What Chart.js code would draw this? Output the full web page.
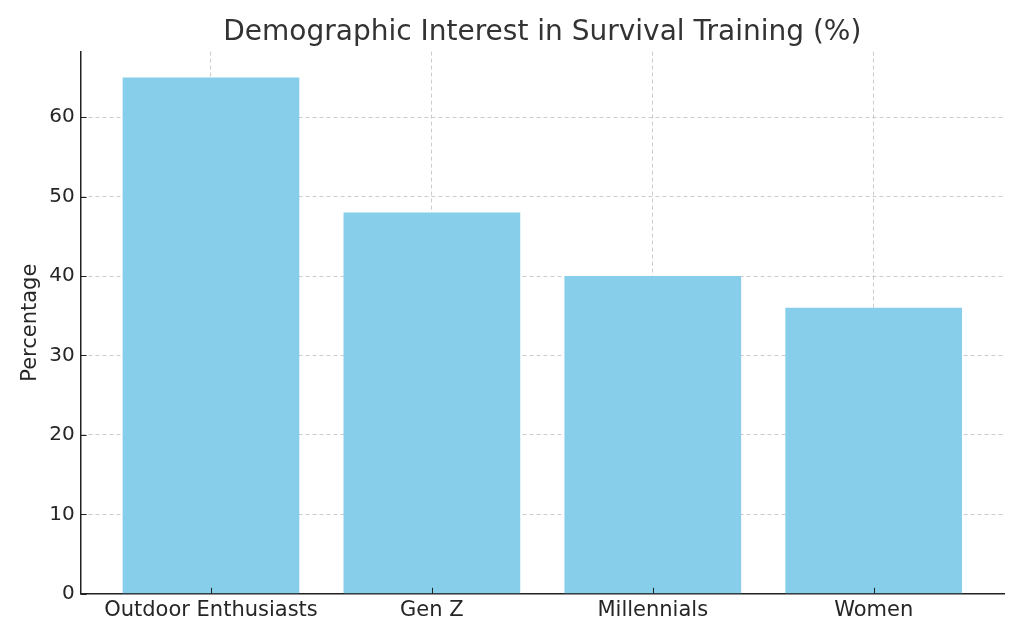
<!DOCTYPE html>
<html>
<head>
<meta charset="utf-8">
<script src="https://cdn.jsdelivr.net/npm/chart.js"></script>
<style>
  html, body { margin: 0; padding: 0; background: #fff; }
  #wrap { width: 1024px; height: 640px; }
</style>
</head>
<body>
<div id="wrap"><canvas id="myChart" width="1024" height="640"></canvas></div>
<script>
// Data
const categories = ['Outdoor Enthusiasts', 'Gen Z', 'Millennials', 'Women'];
const percentages = [65, 48, 40, 36];
const yTicks = [0, 10, 20, 30, 40, 50, 60];

const font = 'DejaVu Sans';
const gridColor = 'rgba(170,170,170,0.6)';

// small inward tick marks, like the original
const innerTicks = {
  id: 'innerTicks',
  afterDraw(chart) {
    const { ctx, chartArea } = chart;
    const x = chart.scales.x, y = chart.scales.y;
    ctx.save();
    ctx.strokeStyle = '#222';
    ctx.lineWidth = 1;
    x.ticks.forEach((t, i) => {
      const px = Math.round(x.getPixelForTick(i)) + 0.5;
      ctx.beginPath();
      ctx.moveTo(px, chartArea.bottom);
      ctx.lineTo(px, chartArea.bottom - 6);
      ctx.stroke();
    });
    y.ticks.forEach((t, i) => {
      const py = Math.round(y.getPixelForTick(i)) + 0.5;
      ctx.beginPath();
      ctx.moveTo(chartArea.left, py);
      ctx.lineTo(chartArea.left + 6, py);
      ctx.stroke();
    });
    ctx.restore();
  }
};

const data = {
  datasets: [{
    label: 'Percentage',
    data: percentages.map((v, i) => ({ x: i, y: v })),
    backgroundColor: '#87CEEB',
    categoryPercentage: 1,
    barPercentage: 0.8
  }]
};

// Config
const config = {
  type: 'bar',
  data: data,
  plugins: [innerTicks],
  options: {
    responsive: false,
    animation: false,
    layout: { padding: { left: 18, right: 20, top: 6, bottom: 13 } },
    plugins: {
      legend: { display: false },
      tooltip: { enabled: false },
      title: {
        display: true,
        fullSize: false,
        text: 'Demographic Interest in Survival Training (%)',
        color: '#333',
        font: { family: font, size: 28, weight: 'normal' },
        padding: { top: 10, bottom: 2 }
      }
    },
    scales: {
      x: {
        type: 'linear',
        min: -0.59,
        max: 3.59,
        offset: false,
        z: 1,
        afterBuildTicks: s => { s.ticks = categories.map((c, i) => ({ value: i })); },
        ticks: {
          color: '#262626',
          font: { family: font, size: 21 },
          padding: 4,
          maxRotation: 0,
          autoSkip: false,
          callback: v => categories[v]
        },
        grid: {
          offset: false,
          color: gridColor,
          drawTicks: false
        },
        border: { display: true, color: '#222', width: 1.5, dash: [4, 3] }
      },
      y: {
        min: 0,
        max: 68.25,
        z: 1,
        afterBuildTicks: s => { s.ticks = yTicks.map(v => ({ value: v })); },
        title: {
          display: true,
          text: 'Percentage',
          color: '#262626',
          font: { family: font, size: 21 },
          padding: { top: 0, bottom: 0 }
        },
        ticks: {
          color: '#262626',
          font: { family: font, size: 20 },
          padding: 6
        },
        grid: {
          color: gridColor,
          drawTicks: false
        },
        border: { display: true, color: '#222', width: 1.5, dash: [4, 3] }
      }
    }
  }
};

const myChart = new Chart(document.getElementById('myChart'), config);
</script>
</body>
</html>
